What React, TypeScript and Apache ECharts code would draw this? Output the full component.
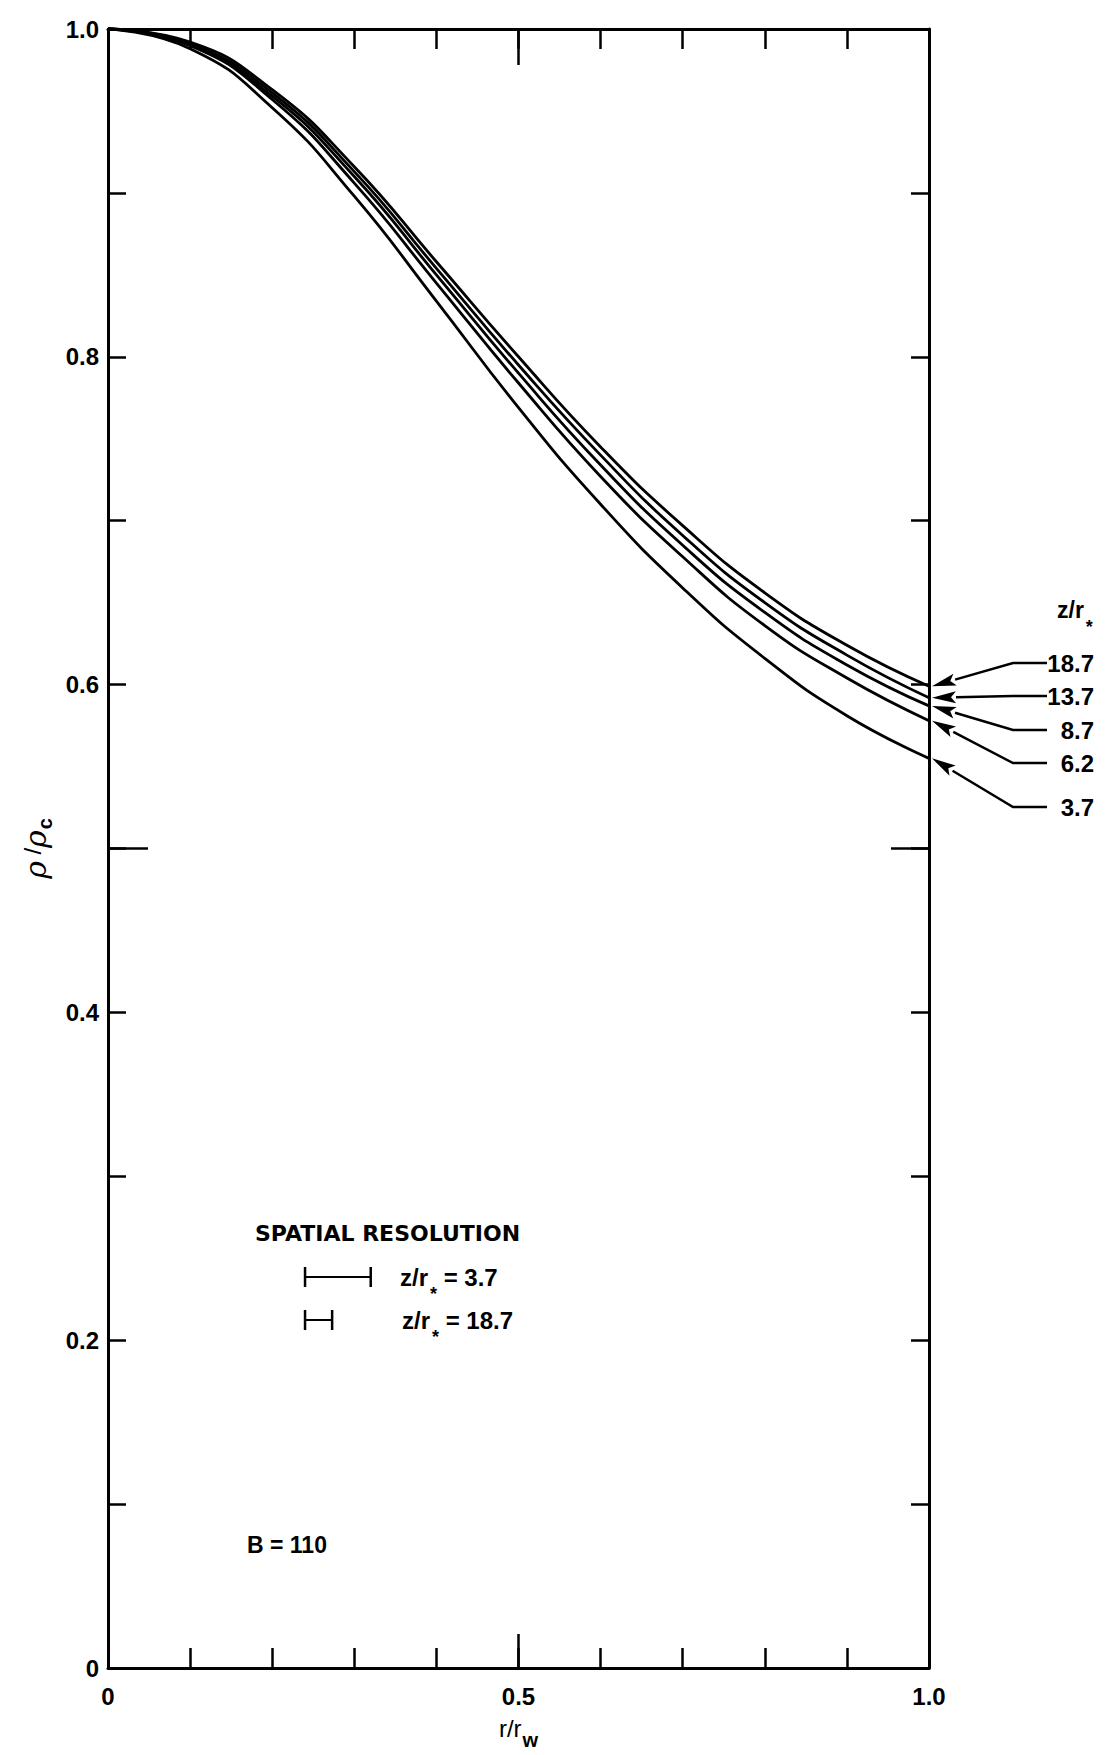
import React, { useEffect, useRef } from "react";
import * as echarts from "echarts";

// ---- data ----
const rValues = [0, 0.1, 0.2, 0.3, 0.4, 0.5, 0.6, 0.7, 0.8, 0.9, 1.0];
const zLabels = ["18.7", "13.7", "8.7", "6.2", "3.7"];
const rho187 = [1.0, 0.992, 0.963, 0.916, 0.858, 0.8, 0.745, 0.697, 0.656, 0.624, 0.599];
const rho137 = [1.0, 0.991, 0.961, 0.913, 0.854, 0.795, 0.74, 0.691, 0.65, 0.618, 0.592];
const rho87 = [1.0, 0.99, 0.959, 0.91, 0.85, 0.79, 0.734, 0.685, 0.644, 0.612, 0.587];
const rho62 = [1.0, 0.99, 0.957, 0.906, 0.845, 0.784, 0.727, 0.678, 0.636, 0.604, 0.578];
const rho37 = [1.0, 0.988, 0.952, 0.898, 0.834, 0.769, 0.71, 0.659, 0.616, 0.581, 0.555];
const xTickValues = [0, 0.5, 1.0];
const xTickLabels = ["0", "0.5", "1.0"];
const yTickValues = [0, 0.2, 0.4, 0.6, 0.8, 1.0];
const yTickLabels = ["0", "0.2", "0.4", "0.6", "0.8", "1.0"];
const resolutionLabels = ["3.7", "18.7"];
const resolution37 = [0.24, 0.32];
const resolution187 = [0.24, 0.273];
const bValue = "110";

export default function App() {
  const ref = useRef<HTMLDivElement>(null);

  useEffect(() => {
    document.body.style.margin = "0";
    const el = ref.current;
    if (!el) return;
    const chart = echarts.init(el, null, { renderer: "svg" });

    const FONT = "'Liberation Sans', Arial, sans-serif";
    const WIDE = "'DejaVu Sans', 'Liberation Sans', sans-serif";
    const NARROW = "'Liberation Sans Narrow', 'Liberation Sans', Arial, sans-serif";
    const black = "#000";
    const lineStyle = { color: black, width: 3 };
    const tickStyle = { color: black, width: 2.5 };

    const fmt = (ticks: number[], labels: string[]) => (v: number) => {
      const i = ticks.findIndex((t) => Math.abs(t - v) < 1e-6);
      return i >= 0 ? labels[i] : "";
    };

    const base = {
      type: "value",
      min: 0,
      max: 1,
      splitLine: { show: false },
      axisLabel: { show: false },
    };

    const curves = [rho187, rho137, rho87, rho62, rho37];

    const option: any = {
      animation: false,
      backgroundColor: "#fff",
      grid: { left: 108, right: 176, top: 29, bottom: 82 },
      xAxis: [
        {
          ...base,
          interval: 0.1,
          position: "bottom",
          axisLine: { show: true, onZero: false, lineStyle },
          axisTick: { show: true, inside: true, length: 20, lineStyle: tickStyle },
          axisLabel: {
            show: true,
            formatter: fmt(xTickValues, xTickLabels),
            color: black,
            fontFamily: NARROW,
            fontWeight: "bold",
            fontSize: 24,
            margin: 16,
          },
          name: "{n|r/r}{s|w}",
          nameLocation: "middle",
          nameGap: 48,
          nameTextStyle: {
            rich: {
              n: { fontSize: 24, fontFamily: NARROW, color: black, lineHeight: 26, verticalAlign: "top" },
              s: {
                fontSize: 20,
                fontFamily: NARROW,
                fontWeight: "bold",
                color: black,
                lineHeight: 18,
                padding: [14, 0, 0, 1],
                verticalAlign: "top",
              },
            },
          },
        },
        {
          ...base,
          interval: 0.5,
          position: "bottom",
          axisLine: { show: false, onZero: false },
          axisTick: { show: true, inside: true, length: 34, lineStyle: tickStyle },
        },
        {
          ...base,
          interval: 0.1,
          position: "top",
          axisLine: { show: true, onZero: false, lineStyle },
          axisTick: { show: true, inside: true, length: 20, lineStyle: tickStyle },
        },
        {
          ...base,
          interval: 0.5,
          position: "top",
          axisLine: { show: false, onZero: false },
          axisTick: { show: true, inside: true, length: 36, lineStyle: tickStyle },
        },
      ],
      yAxis: [
        {
          ...base,
          interval: 0.1,
          position: "left",
          axisLine: { show: true, onZero: false, lineStyle },
          axisTick: { show: true, inside: true, length: 18, lineStyle: tickStyle },
          axisLabel: {
            show: true,
            formatter: fmt(yTickValues, yTickLabels),
            color: black,
            fontFamily: FONT,
            fontWeight: "bold",
            fontSize: 24,
            margin: 9,
          },
          name: "{r|ρ}{n| /}{r|ρ}{s|c}",
          nameLocation: "middle",
          nameGap: 55,
          nameTextStyle: {
            rich: {
              r: {
                fontSize: 30,
                fontFamily: "'DejaVu Serif', serif",
                fontStyle: "italic",
                color: black,
                lineHeight: 30,
                verticalAlign: "top",
              },
              n: { fontSize: 24, fontFamily: FONT, color: black, lineHeight: 30, verticalAlign: "top" },
              s: {
                fontSize: 20,
                fontFamily: FONT,
                fontWeight: "bold",
                color: black,
                lineHeight: 18,
                padding: [14, 0, 0, 1],
                verticalAlign: "top",
              },
            },
          },
        },
        {
          ...base,
          interval: 0.5,
          position: "left",
          axisLine: { show: false, onZero: false },
          axisTick: { show: true, inside: true, length: 40, lineStyle: tickStyle },
        },
        {
          ...base,
          interval: 0.1,
          position: "right",
          axisLine: { show: true, onZero: false, lineStyle },
          axisTick: { show: true, inside: true, length: 18, lineStyle: tickStyle },
        },
        {
          ...base,
          interval: 0.5,
          position: "right",
          axisLine: { show: false, onZero: false },
          axisTick: { show: true, inside: true, length: 38, lineStyle: tickStyle },
        },
      ],
      series: curves.map((vals, i) => ({
        type: "line",
        name: "z/r* = " + zLabels[i],
        xAxisIndex: 0,
        yAxisIndex: 0,
        data: rValues.map((r, j) => [r, vals[j]]),
        smooth: 0.5,
        symbol: "none",
        showSymbol: false,
        clip: false,
        lineStyle: { color: black, width: 2.8 },
      })),
    };

    chart.setOption(option);

    // ---- annotations ----
    const toPx = (x: number, y: number) =>
      chart.convertToPixel({ gridIndex: 0 }, [x, y]) as number[];

    const elements: any[] = [];
    const subRich = (mainSize: number) => ({
      n: { fontSize: mainSize, fontWeight: "bold", fontFamily: FONT, fill: black, lineHeight: 24, verticalAlign: "top" },
      s: {
        fontSize: 18,
        fontWeight: "bold",
        fontFamily: FONT,
        fill: black,
        lineHeight: 16,
        padding: [20, 0, 0, 2],
        verticalAlign: "top",
      },
    });

    // legend header z/r*
    elements.push({
      type: "text",
      x: 1057,
      y: 598,
      style: { text: "{n|z/r}{s|*}", rich: subRich(23), align: "left", verticalAlign: "top" },
    });

    const legendY = [663, 696, 730, 763, 807];
    const labelRight = 1094;
    const lineStartX = 1047;
    const elbowX = 1013;
    const L = 24;
    const HW = 6;
    curves.forEach((vals, i) => {
      const end = vals[vals.length - 1];
      const p = toPx(1, end);
      const tx = p[0] + 3;
      const ty = p[1];
      const ly = legendY[i];
      const dx = tx - elbowX;
      const dy = ty - ly;
      const len = Math.hypot(dx, dy);
      const ux = dx / len;
      const uy = dy / len;
      const bx = tx - ux * L;
      const by = ty - uy * L;
      const nx = -uy;
      const ny = ux;
      elements.push({
        type: "polyline",
        shape: { points: [[lineStartX, ly], [elbowX, ly], [bx, by]] },
        style: { stroke: black, lineWidth: 2.5, fill: null },
      });
      elements.push({
        type: "polygon",
        shape: {
          points: [
            [tx, ty],
            [bx + nx * HW, by + ny * HW],
            [bx + ux * 5, by + uy * 5],
            [bx - nx * HW, by - ny * HW],
          ],
        },
        style: { fill: black },
      });
      elements.push({
        type: "text",
        x: labelRight,
        y: ly,
        style: {
          text: zLabels[i],
          align: "right",
          verticalAlign: "middle",
          fill: black,
          fontSize: 24,
          fontWeight: "bold",
          fontFamily: FONT,
        },
      });
    });

    // spatial resolution block
    elements.push({
      type: "text",
      x: 255,
      y: 1233,
      style: {
        text: "SPATIAL RESOLUTION",
        align: "left",
        verticalAlign: "middle",
        fill: black,
        fontSize: 22,
        fontWeight: "bold",
        fontFamily: WIDE,
      },
    });
    const bars = [resolution37, resolution187];
    const barY = [1277, 1320];
    const textX = [400, 402];
    bars.forEach((b, i) => {
      const x1 = toPx(b[0], 0)[0];
      const x2 = toPx(b[1], 0)[0];
      const y = barY[i];
      elements.push({
        type: "line",
        shape: { x1, y1: y, x2, y2: y },
        style: { stroke: black, lineWidth: 2 },
      });
      elements.push({
        type: "line",
        shape: { x1, y1: y - 10, x2: x1, y2: y + 10 },
        style: { stroke: black, lineWidth: 2.5 },
      });
      elements.push({
        type: "line",
        shape: { x1: x2, y1: y - 10, x2, y2: y + 10 },
        style: { stroke: black, lineWidth: 2.5 },
      });
      elements.push({
        type: "text",
        x: textX[i],
        y: y - 12,
        style: {
          text: "{n|z/r}{s|*}{n| = " + resolutionLabels[i] + "}",
          rich: subRich(24),
          align: "left",
          verticalAlign: "top",
        },
      });
    });

    elements.push({
      type: "text",
      x: 247,
      y: 1545,
      style: {
        text: "B = " + bValue,
        align: "left",
        verticalAlign: "middle",
        fill: black,
        fontSize: 23,
        fontWeight: "bold",
        fontFamily: FONT,
      },
    });

    chart.setOption({ graphic: { elements } });

    return () => {
      chart.dispose();
    };
  }, []);

  return <div ref={ref} style={{ width: 1105, height: 1755 }} />;
}
